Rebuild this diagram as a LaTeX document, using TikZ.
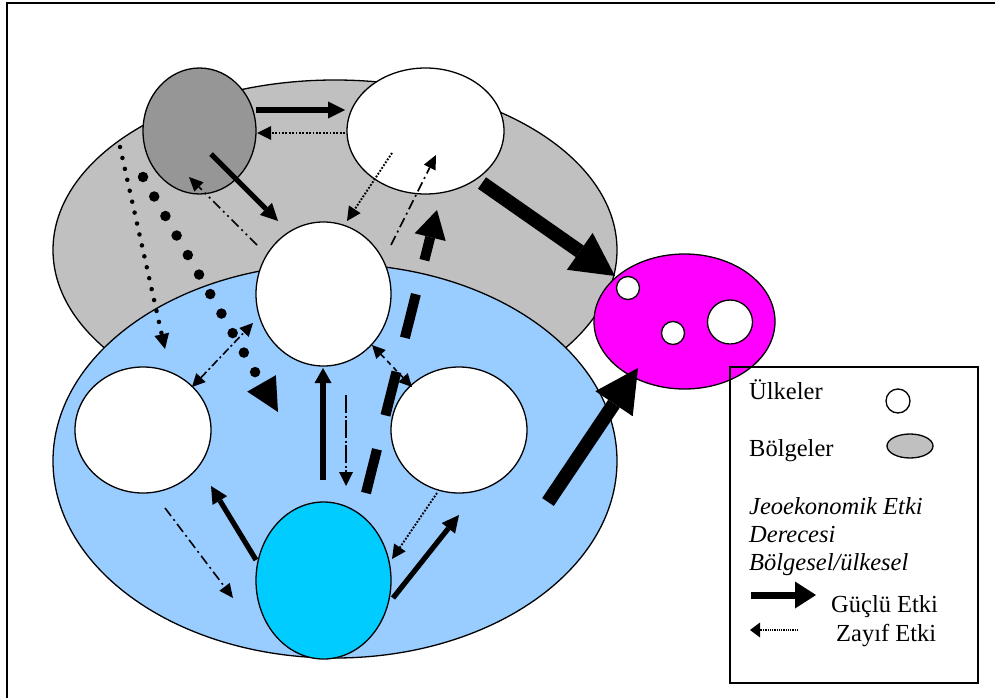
\documentclass[tikz,border=0pt]{standalone}
\usepackage{fontspec}
\setmainfont{Liberation Serif}
\usetikzlibrary{shapes.geometric,arrows.meta}
\definecolor{regiongray}{HTML}{C0C0C0}
\definecolor{darkreg}{HTML}{969696}
\definecolor{bluereg}{HTML}{99CCFF}
\definecolor{cyanreg}{HTML}{00CCFF}
\definecolor{magreg}{HTML}{FF00FF}
\begin{document}
\begin{tikzpicture}[x=1pt,y=-1pt,
  blob/.style={ellipse, draw=black, line width=1.3pt, inner sep=0pt, outer sep=0pt},
  lbl/.style={anchor=base west, inner sep=0pt, font=\fontsize{24.5}{28}\selectfont},
  strongarr/.style={line width=5.2pt, -{Triangle[length=17pt,width=17pt,line width=0pt]}},
  hugearr/.style={line width=14pt, -{Triangle[length=43pt,width=45pt,line width=0pt]}},
  dotarr/.style={line width=1.9pt, dash pattern=on 1.8pt off 1.6pt, -{Triangle[length=14pt,width=14pt,line width=0pt]}},
  dashdotarr/.style={line width=1.6pt, dash pattern=on 10pt off 4pt on 2pt off 4pt, -{Triangle[length=14pt,width=13pt,line width=0pt]}},
  dashdotdotarr/.style={line width=1.6pt, dash pattern=on 10pt off 4pt on 2pt off 4pt on 2pt off 4pt, -{Triangle[length=14pt,width=13pt,line width=0pt]}},
  dashedarr/.style={line width=1.6pt, dash pattern=on 5pt off 4pt, {Triangle[length=13pt,width=13pt,line width=0pt]}-{Triangle[length=13pt,width=13pt,line width=0pt]}},
  dashdotboth/.style={line width=1.6pt, dash pattern=on 8pt off 3pt on 2pt off 3pt, {Triangle[length=13pt,width=13pt,line width=0pt]}-{Triangle[length=13pt,width=13pt,line width=0pt]}},
]
\useasboundingbox (0,0) rectangle (995,698);
% frame
\draw[line width=2pt] (7,698) -- (7,3) -- (995,3);

% regions
\node[blob, fill=regiongray, minimum width=564pt, minimum height=340pt] (gray) at (335,250) {};
\node[blob, fill=darkreg, minimum width=113pt, minimum height=126pt] (dk) at (199.5,131) {};
\node[blob, fill=white, minimum width=157pt, minimum height=126pt] (tr) at (425.5,131) {};
\node[blob, fill=bluereg, minimum width=564pt, minimum height=394pt] (blue) at (335,461) {};
\node[blob, fill=white, minimum width=135pt, minimum height=144pt] (ctr) at (323.5,294) {};
\node[blob, fill=white, minimum width=136pt, minimum height=126pt] (lw) at (143,430) {};
\node[blob, fill=white, minimum width=136pt, minimum height=126pt] (rw) at (459,430) {};
\node[blob, fill=cyanreg, minimum width=135pt, minimum height=157pt] (cy) at (323.5,580.5) {};
\node[blob, fill=magreg, minimum width=181pt, minimum height=135pt] (mag) at (684.5,321.5) {};
\node[blob, fill=white, minimum width=23pt, minimum height=23pt] (m1) at (628,288) {};
\node[blob, fill=white, minimum width=23pt, minimum height=23pt] (m2) at (673,333) {};
\node[blob, fill=white, minimum width=45pt, minimum height=44pt] (m3) at (730,322) {};

% connector end points
\coordinate (a1s) at (256,110); \coordinate (a1e) at (345,110);
\coordinate (a2s) at (345,133); \coordinate (a2e) at (257,133);
\coordinate (a3s) at (211,154); \coordinate (a3e) at (278,221);
\coordinate (a4s) at (257,245); \coordinate (a4e) at (189,177);
\coordinate (a5s) at (392,153); \coordinate (a5e) at (347,221);
\coordinate (a6s) at (391,245); \coordinate (a6e) at (436,155);
\coordinate (a7s) at (366,493); \coordinate (a7e) at (437,210);
\coordinate (a8s) at (482,183); \coordinate (a8e) at (615,276);
\coordinate (a9s) at (548,502); \coordinate (a9e) at (638,368);
\coordinate (a10s) at (143,177); \coordinate (a10e) at (278,412);
\coordinate (a11s) at (120,147); \coordinate (a11e) at (165,349);
\coordinate (a12s) at (192,387); \coordinate (a12e) at (253,323);
\coordinate (a13s) at (372,345); \coordinate (a13e) at (412,387);
\coordinate (a14s) at (323,480); \coordinate (a14e) at (323,368);
\coordinate (a15s) at (346,395); \coordinate (a15e) at (346,486);
\coordinate (a16s) at (256,560); \coordinate (a16e) at (211,486);
\coordinate (a17s) at (165,508); \coordinate (a17e) at (233,598);
\coordinate (a18s) at (437,493); \coordinate (a18e) at (392,559);
\coordinate (a19s) at (393,598); \coordinate (a19e) at (459,515);

% connectors
\draw[strongarr] (a1s) -- (a1e);
\draw[dotarr] (a2s) -- (a2e);
\draw[strongarr] (a3s) -- (a3e);
\draw[dashdotdotarr] (a4s) -- (a4e);
\draw[dotarr] (a5s) -- (a5e);
\draw[dashdotarr] (a6s) -- (a6e);
\draw[line width=10pt, dash pattern=on 45pt off 35pt, -{Triangle[length=28pt,width=32pt,line width=0pt]}] (a7s) -- (a7e);
\draw[hugearr] (a8s) -- (a8e);
\draw[hugearr] (a9s) -- (a9e);
\draw[line width=10.5pt, line cap=round, dash pattern=on 0pt off 22.5pt, -{Triangle[length=33pt,width=33pt,line width=0pt]}] (a10s) -- (a10e);
\draw[line width=4.5pt, line cap=round, dash pattern=on 0pt off 11.2pt, -{Triangle[length=15pt,width=15pt,line width=0pt]}] (a11s) -- (a11e);
\draw[dashdotboth] (a12s) -- (a12e);
\draw[dashedarr] (a13s) -- (a13e);
\draw[line width=5.3pt, -{Triangle[length=15pt,width=17pt,line width=0pt]}] (a14s) -- (a14e);
\draw[line width=1.6pt, dash pattern=on 18pt off 2.5pt on 2pt off 2.5pt, -{Triangle[length=14pt,width=14pt,line width=0pt]}] (a15s) -- (a15e);
\draw[strongarr] (a16s) -- (a16e);
\draw[dashdotarr] (a17s) -- (a17e);
\draw[dotarr] (a18s) -- (a18e);
\draw[strongarr] (a19s) -- (a19e);

% legend
\node[draw, line width=1.5pt, minimum width=248pt, minimum height=316pt, inner sep=0pt] (legend) at (854,525) {};
\node[lbl] (tul) at (749,399) {Ülkeler};
\node[blob, fill=white, minimum width=24pt, minimum height=24pt] (lgc) at (898,401) {};
\node[lbl] (tbo) at (749,456) {Bölgeler};
\node[blob, fill=regiongray, minimum width=46pt, minimum height=24pt] (lge) at (910,446) {};
\node[lbl] (tj1) at (749,514) {\itshape Jeoekonomik Etki};
\node[lbl] (tj2) at (749,542) {\itshape Derecesi};
\node[lbl] (tj3) at (749,570) {\itshape Bölgesel/ülkesel};
\coordinate (l1s) at (751,595); \coordinate (l1e) at (816,595);
\draw[line width=7pt, -{Triangle[length=21pt,width=27pt,line width=0pt]}] (l1s) -- (l1e);
\node[lbl] (tg) at (831,612) {Güçlü Etki};
\coordinate (l2s) at (798,630); \coordinate (l2e) at (750,630);
\draw[line width=1.2pt, dash pattern=on 1pt off 0.8pt, -{Triangle[length=10pt,width=15pt,line width=0pt]}] (l2s) -- (l2e);
\node[lbl] (tz) at (836,641) {Zayıf Etki};
\end{tikzpicture}
\end{document}
